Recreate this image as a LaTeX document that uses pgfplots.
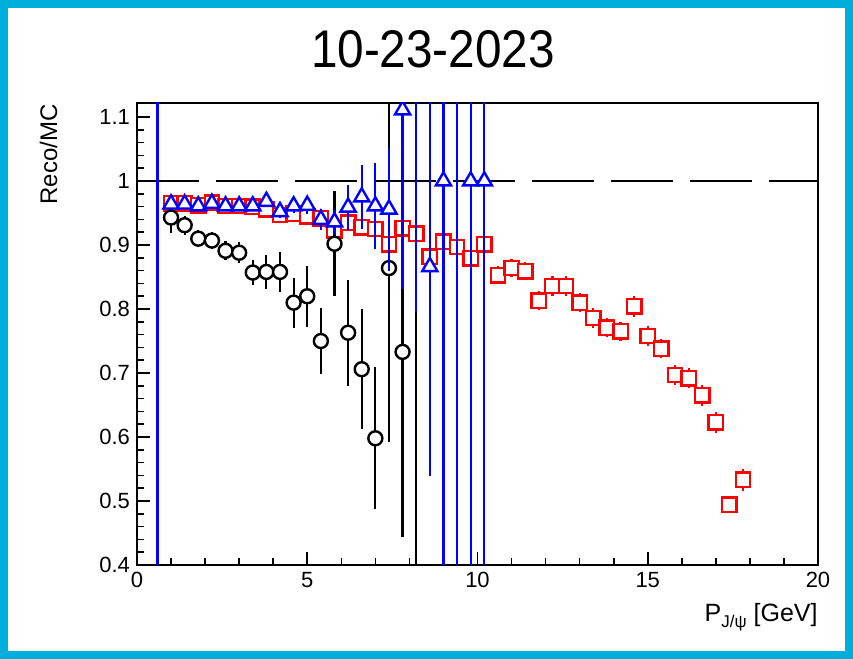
\documentclass[border=0pt]{standalone}
\usepackage{fontspec}
\setmainfont{Liberation Sans}
\usepackage{pgfplots}
\usepackage{pgfplotstable}
\pgfplotsset{compat=1.18}
\definecolor{rootframe}{RGB}{0,174,219}
\definecolor{rootred}{RGB}{255,0,0}
\definecolor{rootblue}{RGB}{0,0,255}

% x y err
\pgfplotstableread{
x y e
1.0 0.965 0.005
1.4 0.965 0.005
1.8 0.962 0.005
2.2 0.966 0.005
2.6 0.961 0.005
3.0 0.961 0.005
3.4 0.960 0.006
3.8 0.956 0.006
4.2 0.947 0.006
4.6 0.949 0.006
5.0 0.945 0.007
5.4 0.942 0.007
5.8 0.923 0.007
6.2 0.935 0.008
6.6 0.928 0.008
7.0 0.925 0.008
7.4 0.901 0.009
7.8 0.926 0.009
8.2 0.918 0.009
8.6 0.882 0.010
9.0 0.905 0.010
9.4 0.897 0.010
9.8 0.879 0.011
10.2 0.901 0.011
10.6 0.853 0.014
11.0 0.864 0.014
11.4 0.859 0.014
11.8 0.813 0.015
12.2 0.836 0.015
12.6 0.836 0.015
13.0 0.810 0.015
13.4 0.786 0.015
13.8 0.771 0.015
14.2 0.765 0.015
14.6 0.804 0.016
15.0 0.758 0.015
15.4 0.738 0.015
15.8 0.697 0.016
16.2 0.692 0.016
16.6 0.665 0.016
17.0 0.623 0.016
17.4 0.494 0.012
17.8 0.533 0.017
}\redtab

\pgfplotstableread{
x y e
1.0 0.943 0.024
1.4 0.931 0.015
1.8 0.910 0.013
2.2 0.907 0.013
2.6 0.891 0.015
3.0 0.888 0.016
3.4 0.857 0.020
3.8 0.858 0.026
4.2 0.858 0.031
4.6 0.810 0.039
5.0 0.820 0.048
5.4 0.750 0.051
5.8 0.902 0.082
6.2 0.763 0.083
6.6 0.706 0.094
7.0 0.598 0.111
7.4 0.864 0.272
7.8 0.733 0.289
8.2 0.350 0.600
}\blacktab

\pgfplotstableread{
x y e
0.6 1.500 1.200
1.0 0.964 0.006
1.4 0.964 0.005
1.8 0.961 0.005
2.2 0.965 0.005
2.6 0.961 0.005
3.0 0.961 0.005
3.4 0.961 0.006
3.8 0.968 0.008
4.2 0.952 0.009
4.6 0.961 0.011
5.0 0.962 0.013
5.4 0.940 0.016
5.8 0.936 0.018
6.2 0.959 0.035
6.6 0.975 0.050
7.0 0.961 0.067
7.4 0.956 0.096
7.8 1.111 0.280
8.2 1.300 0.505
8.6 0.866 0.327
9.0 1.000 0.700
9.4 1.500 1.200
9.8 1.000 0.700
10.2 1.000 0.700
}\bluetab

\begin{document}
\begin{tikzpicture}
\path[use as bounding box] (0,0) rectangle (426.5pt,329.5pt);
\draw[rootframe, line width=4pt] (2pt,2pt) rectangle (424.5pt,327.5pt);
\node[xscale=0.9, font=\fontsize{26.5}{30}\selectfont] at (216.5pt,305pt) {10-23-2023};
\node[rotate=90, anchor=base east, inner sep=0pt, font=\fontsize{12}{14}\selectfont] at (28.5pt,277.5pt) {Reco/MC};
\node[anchor=base east, inner sep=0pt, font=\fontsize{12.5}{14}\selectfont] at (409pt,18.5pt)
  {P\raisebox{-0.45ex}{\fontsize{8.5}{9}\selectfont J/ψ} [GeV]};
\begin{axis}[
    at={(68.5pt,47pt)}, anchor=south west,
    scale only axis, width=340.5pt, height=231pt,
    xmin=0, xmax=20, ymin=0.4, ymax=1.122,
    xtick={0,5,10,15,20},
    ytick={0.4,0.5,0.6,0.7,0.8,0.9,1,1.1},
    minor x tick num=4, minor y tick num=4,
    tick pos=left, tick align=inside,
    major tick length=6.5pt, minor tick length=3.5pt,
    axis line style={line width=1pt},
    every tick/.style={black, line width=0.8pt},
    tick label style={font=\fontsize{11}{13}\selectfont},
    /pgf/number format/assume math mode=true,
    yticklabel style={/pgf/number format/fixed, /pgf/number format/precision=1},
    clip marker paths=true,
    bars/.style={only marks, mark=none,
        error bars/.cd, y dir=both, y explicit, error mark=none,
        error bar style={line width=1.1pt}},
]
% red squares
\addplot[rootred, bars] table[x=x, y=y, y error=e] {\redtab};
\addplot[rootred, only marks, mark=square*, mark size=3.6pt,
    mark options={fill=white, line width=1.2pt}] table[x=x, y=y] {\redtab};
% black circles
\addplot[black, bars] table[x=x, y=y, y error=e] {\blacktab};
\addplot[black, only marks, mark=*, mark size=3.5pt,
    mark options={fill=white, line width=1.2pt}] table[x=x, y=y] {\blacktab};
% reference line at 1
\addplot[black, line width=1pt, dash pattern=on 31pt off 8.5pt] coordinates {(0,1) (20,1)};
% blue triangles
\addplot[rootblue, bars] table[x=x, y=y, y error=e] {\bluetab};
\addplot[rootblue, only marks, mark=triangle*, mark size=4.4pt,
    mark options={fill=white, line width=1.2pt}] table[x=x, y=y] {\bluetab};
\end{axis}
\end{tikzpicture}
\end{document}
